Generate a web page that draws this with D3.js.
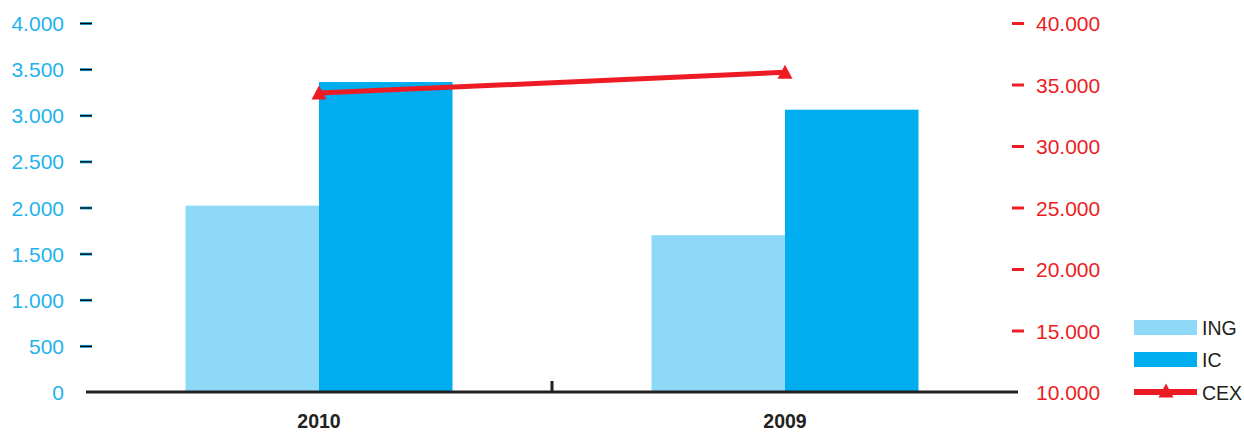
<!DOCTYPE html>
<html>
<head>
<meta charset="utf-8">
<script src="https://cdn.jsdelivr.net/npm/d3@7"></script>
<style>
  html, body { margin: 0; padding: 0; background: #fff; }
  svg { display: block; font-family: "Liberation Sans", Arial, Helvetica, sans-serif; }
</style>
</head>
<body>
<svg id="chart" width="1244" height="432"></svg>
<script>
const categories = ["2010", "2009"];
const seriesNames = ["ING", "IC", "CEX"];
const ingValues = [2020, 1700];
const icValues = [3360, 3060];
const cexValues = [34300, 36000];
const leftTicks = [0, 500, 1000, 1500, 2000, 2500, 3000, 3500, 4000];
const rightTicks = [10000, 15000, 20000, 25000, 30000, 35000, 40000];

const colors = { ING: "#8ed8f8", IC: "#00aeef", CEX: "#ed1c24" };
const leftColor = "#1fb2ec";
const rightColor = "#ed1c24";
const darkColor = "#231f20";

const locale = d3.formatLocale({ decimal: ",", thousands: ".", grouping: [3], currency: ["", ""] });
const fmt = locale.format(",");

const svg = d3.select("#chart");
const baseY = 392, topY = 23;
const x = d3.scaleBand().domain(categories).range([86, 1018]).padding(0);
const halfGroup = 133.5;
const xs = d3.scaleBand().domain(["ING", "IC"])
  .range([x.bandwidth() / 2 - halfGroup, x.bandwidth() / 2 + halfGroup]);
const yL = d3.scaleLinear().domain([0, 4000]).range([baseY, topY]);
const yR = d3.scaleLinear().domain([10000, 40000]).range([baseY, topY]);

// bars
const barData = [];
categories.forEach((c, i) => {
  barData.push({ c, s: "ING", v: ingValues[i] });
  barData.push({ c, s: "IC", v: icValues[i] });
});
svg.append("g").selectAll("rect").data(barData).join("rect")
  .attr("x", d => x(d.c) + xs(d.s))
  .attr("width", xs.bandwidth())
  .attr("y", d => yL(d.v))
  .attr("height", d => baseY - yL(d.v))
  .attr("fill", d => colors[d.s]);

// left axis
const gL = svg.append("g").attr("transform", "translate(92,0)")
  .call(d3.axisLeft(yL).tickValues(leftTicks).tickFormat(fmt).tickSize(12).tickPadding(16));
gL.select(".domain").remove();
gL.selectAll(".tick line").attr("stroke", leftColor).attr("stroke-width", 3)
  .filter(d => d === 0).remove();
gL.selectAll(".tick").each(function(d) {
  if (d === 0) return;
  d3.select(this).append("line").attr("x1", -12).attr("x2", 0)
    .attr("stroke", "#0a0a0a").attr("stroke-width", 1.4);
});
gL.selectAll(".tick text").attr("fill", leftColor).attr("font-size", 21)
  .attr("font-family", "Liberation Sans, Arial, sans-serif").attr("dy", "0.36em");

// right axis
const gR = svg.append("g").attr("transform", "translate(1012,0)")
  .call(d3.axisRight(yR).tickValues(rightTicks).tickFormat(fmt).tickSize(12).tickPadding(12));
gR.select(".domain").remove();
gR.selectAll(".tick line").attr("stroke", rightColor).attr("stroke-width", 3)
  .filter(d => d === 10000).remove();
gR.selectAll(".tick text").attr("fill", rightColor).attr("font-size", 21)
  .attr("font-family", "Liberation Sans, Arial, sans-serif").attr("dy", "0.36em");

// baseline + category separator tick
svg.append("line").attr("x1", 86).attr("x2", 1018).attr("y1", baseY).attr("y2", baseY)
  .attr("stroke", darkColor).attr("stroke-width", 3);
svg.append("line").attr("x1", x(categories[1])).attr("x2", x(categories[1]))
  .attr("y1", baseY - 11).attr("y2", baseY).attr("stroke", darkColor).attr("stroke-width", 3);

// x labels
svg.append("g").selectAll("text").data(categories).join("text")
  .attr("x", d => x(d) + x.bandwidth() / 2)
  .attr("y", 428)
  .attr("text-anchor", "middle")
  .attr("font-size", 19.5).attr("font-weight", "bold").attr("fill", darkColor)
  .text(d => d);

// CEX line
const triPath = "M0,-7.5L7.5,6.5L-7.5,6.5Z";
const lineGen = d3.line().x((d, i) => x(categories[i]) + x.bandwidth() / 2).y(d => yR(d));
svg.append("path").datum(cexValues).attr("d", lineGen)
  .attr("fill", "none").attr("stroke", colors.CEX).attr("stroke-width", 5);
svg.append("g").selectAll("path").data(cexValues).join("path")
  .attr("transform", (d, i) => `translate(${x(categories[i]) + x.bandwidth() / 2},${yR(d)})`)
  .attr("d", triPath).attr("fill", colors.CEX);

// legend
const lg = svg.append("g").attr("transform", "translate(1134,0)");
const legY = [327.5, 359.5, 392];
seriesNames.forEach((s, i) => {
  if (s === "CEX") {
    lg.append("line").attr("x1", 0).attr("x2", 63).attr("y1", legY[i]).attr("y2", legY[i])
      .attr("stroke", colors.CEX).attr("stroke-width", 6);
    lg.append("path").attr("transform", `translate(32,${legY[i] - 1})`).attr("d", triPath).attr("fill", colors.CEX);
  } else {
    lg.append("rect").attr("x", 0).attr("y", legY[i] - 7.5).attr("width", 63).attr("height", 15)
      .attr("fill", colors[s]);
  }
  lg.append("text").attr("x", 68).attr("y", legY[i] + 7.5)
    .attr("font-size", 19.5).attr("fill", darkColor).text(s);
});
</script>
</body>
</html>
